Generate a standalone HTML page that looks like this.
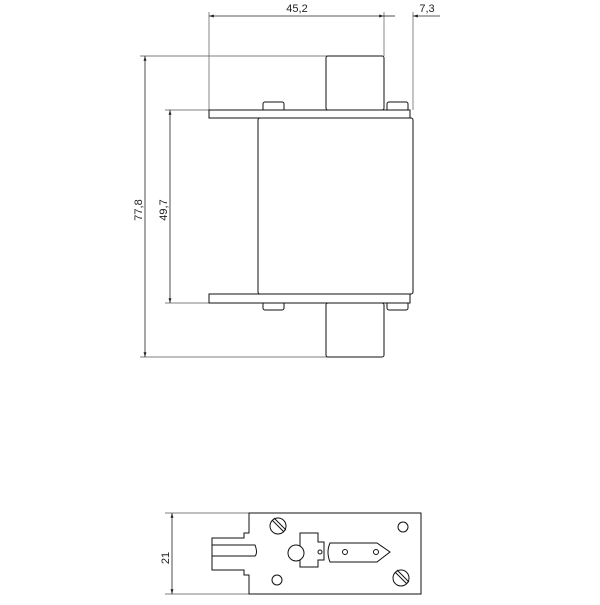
<!DOCTYPE html>
<html><head><style>body{margin:0;background:#fff}</style></head><body>
<svg width="600" height="600" viewBox="0 0 600 600" xmlns="http://www.w3.org/2000/svg" font-family="Liberation Sans, sans-serif" font-size="11">
<defs><marker id="a" viewBox="0 0 10 10" refX="10" refY="5" markerWidth="6" markerHeight="6" orient="auto-start-reverse"><path d="M0,2L10,5L0,8z" fill="#222"/></marker></defs>
<g stroke="#555" stroke-width="0.7" fill="none">
<line x1="209" y1="12" x2="209" y2="110"/><line x1="384" y1="12" x2="384" y2="56"/><line x1="413" y1="12" x2="413" y2="110"/>
<line x1="140" y1="56" x2="330" y2="56"/><line x1="140" y1="357" x2="330" y2="357"/>
<line x1="165" y1="110" x2="210" y2="110"/><line x1="165" y1="303" x2="210" y2="303"/>
<line x1="165" y1="513" x2="250" y2="513"/><line x1="165" y1="594" x2="250" y2="594"/>
</g>
<g stroke="#222" stroke-width="0.8" fill="none">
<line x1="209" y1="16" x2="384" y2="16" marker-start="url(#a)" marker-end="url(#a)"/>
<line x1="384" y1="16" x2="395" y2="16"/><line x1="440" y1="16" x2="413" y2="16" marker-end="url(#a)"/>
<line x1="145" y1="56" x2="145" y2="357" marker-start="url(#a)" marker-end="url(#a)"/>
<line x1="170" y1="110" x2="170" y2="303" marker-start="url(#a)" marker-end="url(#a)"/>
<line x1="172" y1="513" x2="172" y2="594" marker-start="url(#a)" marker-end="url(#a)"/>
</g>
<g fill="#222">
<text x="297" y="12" text-anchor="middle">45,2</text>
<text x="427" y="12" text-anchor="middle">7,3</text>
<text transform="translate(142,210) rotate(-90)" text-anchor="middle">77,8</text>
<text transform="translate(167,210) rotate(-90)" text-anchor="middle">49,7</text>
<text transform="translate(169,558) rotate(-90)" text-anchor="middle">21</text>
</g>
<g stroke="#111" stroke-width="1" fill="#fff">
<rect x="326" y="56" width="58" height="54" rx="2"/>
<rect x="326" y="303" width="58" height="54" rx="2"/>
<rect x="263" y="102" width="21" height="9" rx="2"/><rect x="387" y="102" width="21" height="9" rx="2"/>
<rect x="263" y="302" width="21" height="8" rx="2"/><rect x="387" y="302" width="21" height="8" rx="2"/>
<rect x="209" y="110" width="201" height="8"/>
<rect x="209" y="294" width="201" height="9"/>
<rect x="258" y="118" width="155" height="176" rx="2"/>
<path d="M249,513H421V594H249V575H244V570H212V538H244V533H249Z"/>
<circle cx="278" cy="526" r="8"/><line x1="272" y1="520" x2="284" y2="532"/><line x1="274" y1="518" x2="286" y2="530"/>
<circle cx="401" cy="578" r="8"/><line x1="395" y1="572" x2="407" y2="584"/><line x1="397" y1="570" x2="409" y2="582"/>
<circle cx="403" cy="527" r="5"/><circle cx="277" cy="580" r="5"/>
<path d="M300,533H318V542H324V560H318V567H300Z"/>
<circle cx="296" cy="553" r="8"/>
<circle cx="320" cy="552" r="2"/>
<path d="M330,543H377L390,552L377,562H330Q326,552 330,543Z"/>
<circle cx="345" cy="552" r="2.5"/><circle cx="376" cy="552" r="2.5"/>
<path d="M212,545H255Q258,553 255,556H212" fill="none"/>
</g>
</svg>
</body></html>
